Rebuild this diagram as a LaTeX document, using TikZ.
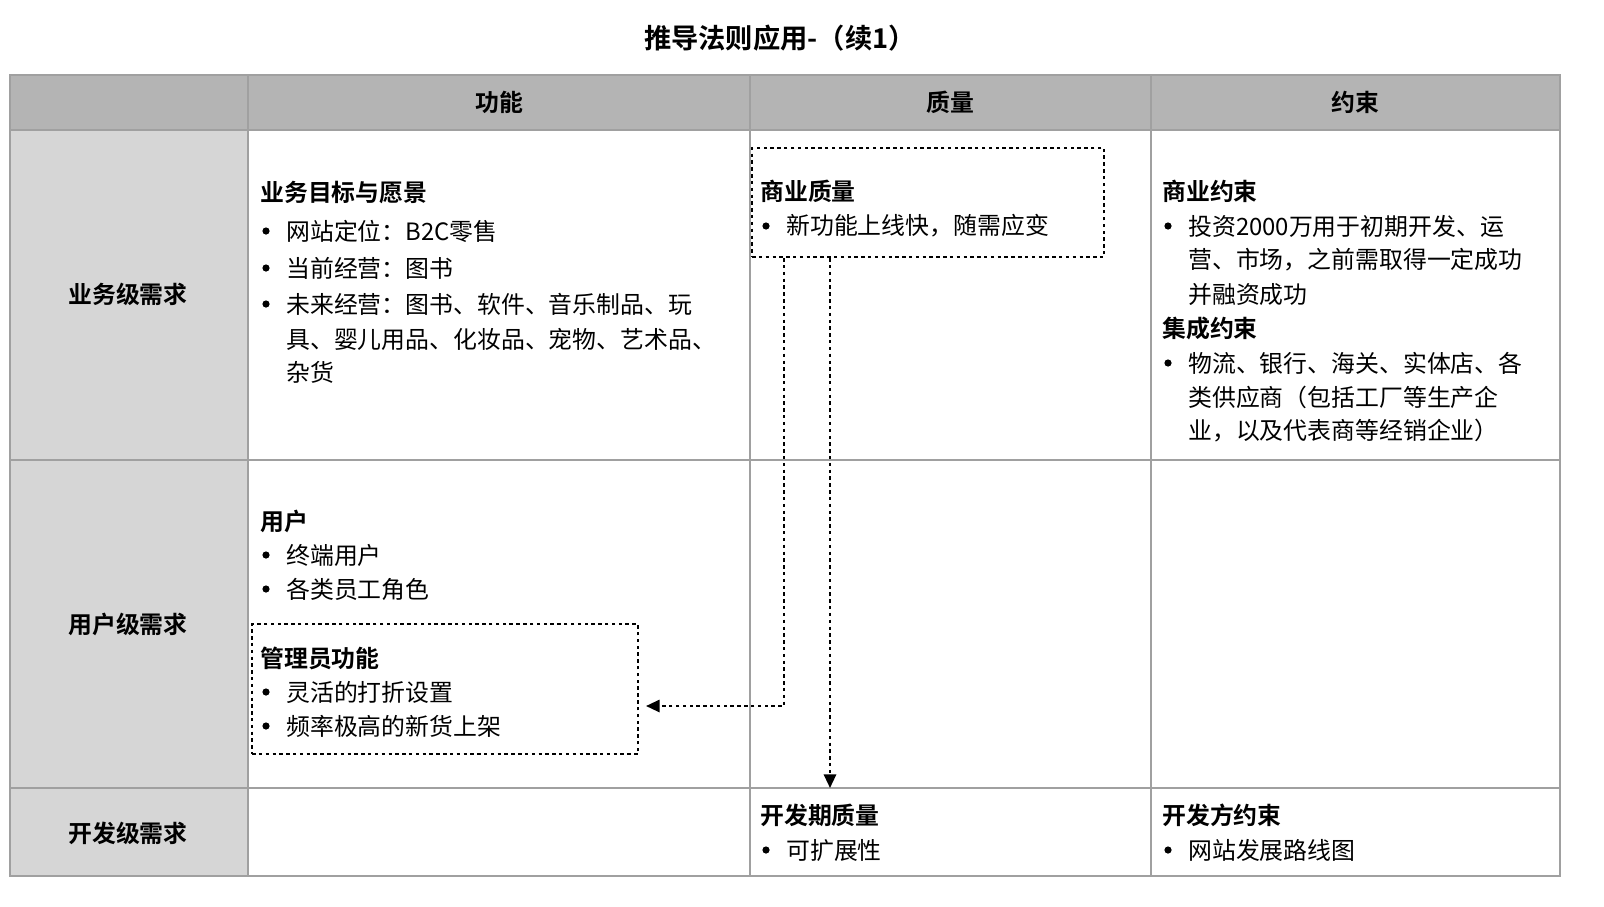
\documentclass[tikz,border=0pt]{standalone}
\usepackage{fontspec}
\setmainfont{Noto Sans CJK SC}[BoldFont={Noto Sans CJK SC Bold}]
\usetikzlibrary{arrows.meta}
\definecolor{hdr}{RGB}{180,180,180}
\definecolor{side}{RGB}{214,214,214}
\definecolor{grid}{RGB}{160,160,160}
\tikzset{
 txt/.style={anchor=west,inner sep=0pt,font=\fontsize{17.5}{20}\selectfont},
 hd/.style={txt,font=\fontsize{17.5}{20}\selectfont\bfseries},
 cen/.style={inner sep=0pt,font=\fontsize{17.5}{20}\selectfont\bfseries},
 dbox/.style={draw,line width=1.6pt,dash pattern=on 2.5pt off 2.5pt},
 darr/.style={line width=1.6pt,dash pattern=on 2.5pt off 2.5pt,-{Triangle[length=10pt,width=9pt]}}
}
\newcommand{\bl}[3]{\fill (#1-20,#2) circle[radius=3.6]; \node[txt] at (#1,#2) {#3};}
\begin{document}
\begin{tikzpicture}[x=0.733pt,y=-0.733pt]
\useasboundingbox (0,0) rectangle (1604,906);
\node[cen,font=\fontsize{20}{24}\selectfont\bfseries] (title) at (780,38) {推导法则应用-（续1）};
\fill[hdr] (10,75) rectangle (1560,130);
\fill[side] (10,130) rectangle (248,876);
\draw[grid,line width=0.8pt] (10,75) rectangle (1560,876);
\foreach \x in {248,750,1151} \draw[grid,line width=0.8pt] (\x,75) -- (\x,876);
\foreach \y in {130,460,788} \draw[grid,line width=0.8pt] (10,\y) -- (1560,\y);
\node[cen] (h1) at (499,102) {功能};
\node[cen] (h2) at (950,102) {质量};
\node[cen] (h3) at (1355,102) {约束};
\node[cen] (r1) at (128,294) {业务级需求};
\node[cen] (r2) at (128,624) {用户级需求};
\node[cen] (r3) at (128,833) {开发级需求};
% row 1
\node[hd] at (260,193) {业务目标与愿景};
\bl{286}{231}{网站定位：B2C零售}
\bl{286}{268}{当前经营：图书}
\bl{286}{304}{未来经营：图书、软件、音乐制品、玩}
\node[txt] at (286,339) {具、婴儿用品、化妆品、宠物、艺术品、};
\node[txt] at (286,372) {杂货};
\node[dbox,minimum width=352*0.733pt,minimum height=109*0.733pt,anchor=north west,inner sep=0pt] (qbox) at (751,147) {};
\node[hd] at (760,191) {商业质量};
\bl{786}{226}{新功能上线快，随需应变}
\node[hd] at (1162,191) {商业约束};
\bl{1188}{226}{投资2000万用于初期开发、运}
\node[txt] at (1188,260) {营、市场，之前需取得一定成功};
\node[txt] at (1188,294) {并融资成功};
\node[hd] at (1162,328) {集成约束};
\bl{1188}{363}{物流、银行、海关、实体店、各}
\node[txt] at (1188,397) {类供应商（包括工厂等生产企};
\node[txt] at (1188,431) {业，以及代表商等经销企业）};
% row 2
\node[hd] at (260,521) {用户};
\bl{286}{555}{终端用户}
\bl{286}{589}{各类员工角色}
\node[dbox,minimum width=386*0.733pt,minimum height=130*0.733pt,anchor=north west,inner sep=0pt] (abox) at (251,623) {};
\node[hd] at (260,658) {管理员功能};
\bl{286}{692}{灵活的打折设置}
\bl{286}{726}{频率极高的新货上架}
% row 3
\node[hd] at (760,815) {开发期质量};
\bl{786}{850}{可扩展性}
\node[hd] at (1162,815) {开发方约束};
\bl{1188}{850}{网站发展路线图}
% arrows
\coordinate (c1) at (784,706);
\coordinate (t2) at (830,788);
\coordinate (a2) at (646,706);
\draw[darr] (qbox.south west -| c1) -- (c1) -- (a2);
\draw[darr] (qbox.south west -| t2) -- (t2);
\end{tikzpicture}
\end{document}
